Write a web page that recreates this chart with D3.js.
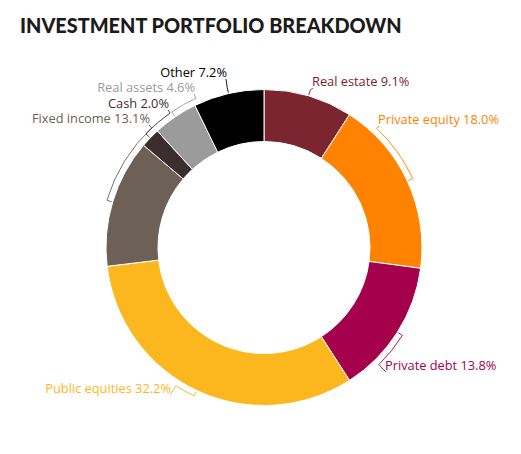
<!DOCTYPE html>
<html><head><meta charset="utf-8">
<script src="https://cdn.jsdelivr.net/npm/d3@7/dist/d3.min.js"></script>
<style>body{margin:0;background:#fff}</style>
</head><body>
<svg id="chart" width="521" height="454"></svg>
<script>
const categories = ["Real estate","Private equity","Private debt","Public equities","Fixed income","Cash","Real assets","Other"];
const values = [9.1, 18.0, 13.8, 32.2, 13.1, 2.0, 4.6, 7.2];
const colors = ["#7a2530","#ff8300","#a4004b","#fdb71e","#6d6056","#3a2f2e","#9b9b9b","#000000"];
const labelColors = ["#7a2530","#ff8300","#a4004b","#fdb71e","#6d6056","#3a2f2e","#9b9b9b","#000000"];
// layout: leader end points (anchor of label text) and text side
const labelAnchors = [[313,88,"start"],[379,126,"start"],[386,372,"start"],[170,395,"end"],[149,125,"end"],[168,110,"end"],[194,94,"end"],[226,79,"end"]];

const svg = d3.select("#chart");
const cx = 264, cy = 247.5, R = 158, r0 = 106;

const title = svg.append("text").attr("x",20).attr("y",33)
  .attr("font-family","Lato").attr("font-weight",900).attr("font-size",22)
  .attr("fill","#1b1b1b").text("INVESTMENT PORTFOLIO BREAKDOWN");
const tw = title.node().getComputedTextLength();
title.attr("font-size", 22*382/tw);

const pie = d3.pie().sort(null).value(d=>d)(values);
const arc = d3.arc().innerRadius(r0).outerRadius(R);
const g = svg.append("g").attr("transform",`translate(${cx},${cy})`);
g.selectAll("path.slice").data(pie).join("path").attr("class","slice")
  .attr("d",arc).attr("fill",(d,i)=>colors[i]).attr("stroke","#fff").attr("stroke-width",1);

const pt = (a,r)=>[r*Math.sin(a), -r*Math.cos(a)];
pie.forEach((d,i)=>{
  const mid = (d.startAngle+d.endAngle)/2;
  const [ax,ay,anchor] = labelAnchors[i];
  const dx = ax-cx, dy = ay-cy;
  let la = Math.atan2(dx,-dy); if (la<0) la += 2*Math.PI;
  if (i===0 && la>Math.PI) la -= 2*Math.PI;
  const rb = R+6;
  const p = d3.path();
  const s = pt(mid,R+1), s2 = pt(mid,rb);
  p.moveTo(s[0],s[1]); p.lineTo(s2[0],s2[1]);
  if (Math.abs(la-mid)>0.02) p.arc(0,0,rb,mid-Math.PI/2,la-Math.PI/2,la<mid);
  p.lineTo(dx,dy);
  g.append("path").attr("d",p.toString()).attr("fill","none")
    .attr("stroke",labelColors[i]).attr("stroke-width",0.9);
  svg.append("text").attr("x",ax+(anchor==="start"?-1:1)).attr("y",ay-2)
    .attr("text-anchor",anchor).attr("font-family","Open Sans").attr("font-size",12.8)
    .attr("fill",labelColors[i]).text(`${categories[i]} ${values[i].toFixed(1)}%`);
});
</script>
</body></html>
